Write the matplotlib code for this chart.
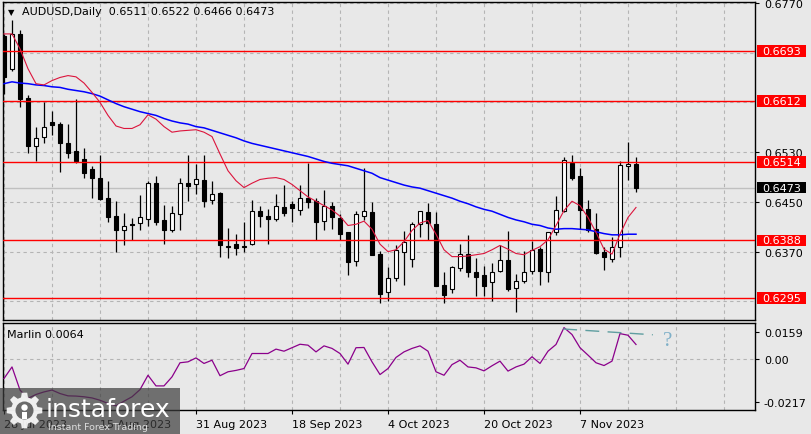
#!/usr/bin/env python3
"""AUDUSD daily candles with two moving averages, horizontal levels and the
Marlin oscillator below, drawn in the MT4 light-grey chart style."""
import matplotlib
matplotlib.use("Agg")
import matplotlib.pyplot as plt
import matplotlib.transforms as mtransforms
from matplotlib.patches import Rectangle, Polygon, Circle
import numpy as np

# ---- data --------------------------------------------------------------
SYMBOL = "AUDUSD,Daily"

# one row per daily bar, 28 Jul 2023 .. 16 Nov 2023
OPEN = [
    0.6717, 0.6664, 0.6720, 0.6617, 0.6540, 0.6554, 0.6578, 0.6575, 0.6545, 0.6531,
    0.6519, 0.6503, 0.6489, 0.6457, 0.6427, 0.6405, 0.6415, 0.6416, 0.6423, 0.6481,
    0.6421, 0.6405, 0.6430, 0.6481, 0.6478, 0.6485, 0.6453, 0.6464, 0.6378, 0.6382,
    0.6378, 0.6383, 0.6435, 0.6427, 0.6422, 0.6441, 0.6446, 0.6437, 0.6456, 0.6451,
    0.6419, 0.6444, 0.6424, 0.6401, 0.6355, 0.6428, 0.6434, 0.6366, 0.6305, 0.6327,
    0.6370, 0.6358, 0.6414, 0.6433, 0.6414, 0.6316, 0.6310, 0.6344, 0.6366, 0.6337,
    0.6332, 0.6321, 0.6339, 0.6357, 0.6311, 0.6323, 0.6339, 0.6375, 0.6338, 0.6401,
    0.6435, 0.6513, 0.6491, 0.6438, 0.6406, 0.6369, 0.6358, 0.6378, 0.6507, 0.6511,
]
HIGH = [
    0.6720, 0.6743, 0.6726, 0.6621, 0.6571, 0.6611, 0.6596, 0.6579, 0.6575, 0.6616,
    0.6536, 0.6508, 0.6525, 0.6483, 0.6452, 0.6432, 0.6424, 0.6461, 0.6483, 0.6491,
    0.6445, 0.6444, 0.6489, 0.6525, 0.6511, 0.6525, 0.6483, 0.6466, 0.6408, 0.6398,
    0.6417, 0.6453, 0.6443, 0.6438, 0.6463, 0.6477, 0.6452, 0.6477, 0.6512, 0.6456,
    0.6469, 0.6450, 0.6430, 0.6402, 0.6435, 0.6504, 0.6449, 0.6371, 0.6345, 0.6380,
    0.6403, 0.6417, 0.6436, 0.6448, 0.6433, 0.6337, 0.6347, 0.6382, 0.6397, 0.6360,
    0.6347, 0.6351, 0.6380, 0.6403, 0.6334, 0.6371, 0.6387, 0.6377, 0.6402, 0.6460,
    0.6522, 0.6525, 0.6504, 0.6453, 0.6432, 0.6377, 0.6394, 0.6515, 0.6546, 0.6522,
]
LOW = [
    0.6623, 0.6661, 0.6603, 0.6529, 0.6516, 0.6545, 0.6557, 0.6498, 0.6520, 0.6513,
    0.6489, 0.6456, 0.6453, 0.6418, 0.6369, 0.6381, 0.6389, 0.6405, 0.6412, 0.6413,
    0.6383, 0.6402, 0.6404, 0.6452, 0.6463, 0.6441, 0.6447, 0.6361, 0.6360, 0.6365,
    0.6370, 0.6380, 0.6409, 0.6383, 0.6420, 0.6427, 0.6418, 0.6429, 0.6440, 0.6389,
    0.6405, 0.6406, 0.6389, 0.6332, 0.6347, 0.6421, 0.6364, 0.6288, 0.6290, 0.6323,
    0.6316, 0.6345, 0.6393, 0.6388, 0.6314, 0.6288, 0.6303, 0.6339, 0.6330, 0.6299,
    0.6299, 0.6291, 0.6337, 0.6307, 0.6273, 0.6320, 0.6334, 0.6316, 0.6321, 0.6397,
    0.6433, 0.6485, 0.6406, 0.6401, 0.6366, 0.6341, 0.6354, 0.6362, 0.6485, 0.6466,
]
CLOSE = [
    0.6650, 0.6720, 0.6615, 0.6540, 0.6552, 0.6570, 0.6574, 0.6545, 0.6529, 0.6515,
    0.6497, 0.6489, 0.6455, 0.6426, 0.6405, 0.6411, 0.6413, 0.6425, 0.6481, 0.6418,
    0.6405, 0.6432, 0.6481, 0.6476, 0.6486, 0.6452, 0.6462, 0.6380, 0.6379, 0.6376,
    0.6379, 0.6435, 0.6428, 0.6423, 0.6443, 0.6432, 0.6440, 0.6456, 0.6449, 0.6417,
    0.6443, 0.6425, 0.6399, 0.6354, 0.6430, 0.6435, 0.6365, 0.6302, 0.6327, 0.6373,
    0.6386, 0.6414, 0.6435, 0.6416, 0.6315, 0.6300, 0.6345, 0.6367, 0.6338, 0.6330,
    0.6315, 0.6338, 0.6357, 0.6310, 0.6323, 0.6337, 0.6372, 0.6339, 0.6401, 0.6437,
    0.6517, 0.6488, 0.6437, 0.6405, 0.6368, 0.6362, 0.6378, 0.6509, 0.6511, 0.6473,
]

# fast (red) and slow (blue) moving averages as drawn on the chart
MA_FAST = [
    0.6720, 0.6720, 0.6696, 0.6664, 0.6640, 0.6638, 0.6645, 0.6650, 0.6653, 0.6651,
    0.6641, 0.6626, 0.6610, 0.6589, 0.6572, 0.6568, 0.6568, 0.6574, 0.6590, 0.6583,
    0.6571, 0.6562, 0.6564, 0.6565, 0.6566, 0.6562, 0.6555, 0.6527, 0.6500, 0.6484,
    0.6473, 0.6480, 0.6486, 0.6488, 0.6489, 0.6486, 0.6478, 0.6468, 0.6458, 0.6451,
    0.6444, 0.6437, 0.6427, 0.6412, 0.6414, 0.6419, 0.6406, 0.6382, 0.6370, 0.6373,
    0.6386, 0.6404, 0.6416, 0.6420, 0.6398, 0.6373, 0.6362, 0.6362, 0.6363, 0.6365,
    0.6367, 0.6373, 0.6380, 0.6374, 0.6367, 0.6365, 0.6372, 0.6378, 0.6389, 0.6412,
    0.6436, 0.6451, 0.6444, 0.6425, 0.6401, 0.6374, 0.6366, 0.6398, 0.6425, 0.6441,
]
MA_SLOW = [
    0.6640, 0.6643, 0.6641, 0.6640, 0.6638, 0.6637, 0.6635, 0.6634, 0.6631, 0.6629,
    0.6627, 0.6624, 0.6620, 0.6614, 0.6608, 0.6603, 0.6599, 0.6595, 0.6592, 0.6589,
    0.6584, 0.6580, 0.6577, 0.6575, 0.6571, 0.6569, 0.6565, 0.6561, 0.6557, 0.6553,
    0.6548, 0.6544, 0.6541, 0.6538, 0.6535, 0.6532, 0.6529, 0.6526, 0.6523, 0.6519,
    0.6515, 0.6512, 0.6510, 0.6508, 0.6504, 0.6500, 0.6496, 0.6489, 0.6485, 0.6481,
    0.6477, 0.6474, 0.6472, 0.6468, 0.6464, 0.6460, 0.6456, 0.6451, 0.6447, 0.6442,
    0.6438, 0.6435, 0.6430, 0.6425, 0.6421, 0.6418, 0.6414, 0.6412, 0.6408, 0.6406,
    0.6407, 0.6407, 0.6406, 0.6405, 0.6402, 0.6399, 0.6397, 0.6397, 0.6398, 0.6398,
]
MARLIN = [
    -0.0083, -0.0033, -0.0133, -0.0169, -0.0152, -0.0141, -0.0133, -0.0148, -0.0158, -0.0159,
    -0.0162, -0.0167, -0.0177, -0.0191, -0.0201, -0.0181, -0.0162, -0.0131, -0.0069, -0.0115,
    -0.0115, -0.0076, -0.0015, -0.0011, 0.0006, -0.0018, -0.0004, -0.0071, -0.0054, -0.0048,
    -0.0040, 0.0025, 0.0025, 0.0025, 0.0044, 0.0035, 0.0050, 0.0065, 0.0061, 0.0032,
    0.0058, 0.0047, 0.0025, -0.0021, 0.0050, 0.0051, -0.0011, -0.0066, -0.0040, 0.0008,
    0.0032, 0.0047, 0.0058, 0.0035, -0.0054, -0.0069, -0.0023, -0.0004, -0.0033, -0.0037,
    -0.0050, -0.0028, -0.0008, -0.0051, -0.0033, -0.0021, 0.0011, -0.0018, 0.0035, 0.0064,
    0.0137, 0.0107, 0.0050, 0.0018, -0.0015, -0.0027, -0.0008, 0.0111, 0.0104, 0.0064,
]

DATE_LABELS = ["28 Jul 2023", "15 Aug 2023", "31 Aug 2023", "18 Sep 2023",
               "4 Oct 2023", "20 Oct 2023", "7 Nov 2023"]
LEVELS = [0.6693, 0.6612, 0.6514, 0.6388, 0.6295]
PRICE_GRID = [0.6770, 0.6690, 0.6610, 0.6530, 0.6450, 0.6370, 0.6290]
# scale labels that are not hidden behind the level boxes
PRICE_LABELS = [0.6770, 0.6530, 0.6450, 0.6370]
MARLIN_MAX, MARLIN_MIN = 0.0159, -0.0217
# hand-drawn divergence line on the oscillator (bar index, value)
DIV_X = [69.9, 81.1]
DIV_Y = [0.0131, 0.0106]

# ---- style ---------------------------------------------------------------
W, H = 812, 435
BG = "#e8e8e8"
GRID = "#b4b4b4"
RED = "#ff0000"
BAR_STEP = 8.0       # pixels per bar
X0_PX = 4.0          # pixel x of bar 0
LEFT_PX, RIGHT_PX = 3.0, 755.5
MAIN_TOP, MAIN_BOT = 3.0, 321.0
IND_TOP, IND_BOT = 323.5, 410.5
Y_TOP, Y_BOT = 0.67713, 0.62601

plt.rcParams.update({
    "font.family": ["DejaVu Sans"],
    "font.size": 8,
    "axes.linewidth": 1.0,
    "axes.edgecolor": "black",
})


def fx(px):
    return px / W


def fy(py):
    return 1 - py / H


def main():
    fig = plt.figure(figsize=(W / 100, H / 100), dpi=100, facecolor=BG)
    xlim = ((LEFT_PX - X0_PX) / BAR_STEP, (RIGHT_PX - X0_PX) / BAR_STEP)

    ax = fig.add_axes([fx(LEFT_PX), fy(MAIN_BOT), fx(RIGHT_PX) - fx(LEFT_PX),
                       (MAIN_BOT - MAIN_TOP) / H], facecolor=BG)
    ind = fig.add_axes([fx(LEFT_PX), fy(IND_BOT), fx(RIGHT_PX) - fx(LEFT_PX),
                        (IND_BOT - IND_TOP) / H], facecolor=BG)

    n = len(OPEN)
    x = np.arange(n)
    o, h, l, c = (np.array(v) for v in (OPEN, HIGH, LOW, CLOSE))

    # grid
    for gx in range(0, 95, 6):
        ax.axvline(gx, color=GRID, lw=0.8, ls=(0, (3, 3)), zorder=0.5)
        ind.axvline(gx, color=GRID, lw=0.8, ls=(0, (3, 3)), zorder=0.5)
    for gy in PRICE_GRID:
        ax.axhline(gy, color=GRID, lw=0.8, ls=(0, (3, 3)), zorder=0.5)
    ind.axhline(0, color=GRID, lw=0.8, ls=(0, (3, 3)), zorder=0.5)

    # bid line
    ax.axhline(CLOSE[-1], color="#c0c0c0", lw=1.0, zorder=1)

    # candles
    up = c >= o
    ax.vlines(x, l, h, color="black", lw=0.9, zorder=3)
    bottom = np.minimum(o, c)
    height = np.abs(c - o)
    ax.bar(x[up], height[up], bottom=bottom[up], width=0.56, color="white",
           edgecolor="black", linewidth=0.8, zorder=4)
    ax.bar(x[~up], height[~up], bottom=bottom[~up], width=0.56, color="black",
           edgecolor="black", linewidth=0.8, zorder=4)

    ax.plot(x, MA_SLOW, color="#0000ff", lw=1.1, zorder=6)
    ax.plot(x, MA_FAST, color="#dc143c", lw=0.8, zorder=6)

    for lvl in LEVELS:
        ax.axhline(lvl, color=RED, lw=1.0, zorder=5)

    ax.set_xticks([])
    ax.set_yticks(PRICE_LABELS)
    ax.set_yticklabels([f"{t:.4f}" for t in PRICE_LABELS])
    ax.tick_params(axis="y", left=False, right=True, labelleft=False,
                   labelright=True, direction="out", length=3, width=0.8,
                   pad=3, labelsize=8)

    # price boxes on the right scale
    blend = mtransforms.blended_transform_factory(fig.transFigure, ax.transData)
    box_h = 11.7 * (Y_TOP - Y_BOT) / (MAIN_BOT - MAIN_TOP)
    boxes = [(lvl, RED) for lvl in LEVELS] + [(CLOSE[-1], "black")]
    for lvl, col in boxes:
        ax.add_patch(Rectangle((fx(757), lvl - box_h / 2), fx(49), box_h,
                               transform=blend, facecolor=col, edgecolor="none",
                               clip_on=False, zorder=8))
        ax.text(fx(762), lvl, f"{lvl:.4f}", transform=blend, color="white",
                ha="left", va="center", fontsize=8, zorder=9, clip_on=False)
    ax.set_xlim(*xlim)
    ax.set_ylim(Y_BOT, Y_TOP)

    # oscillator
    ind.plot(x, MARLIN, color="#8b008b", lw=0.9, zorder=3)
    ind.plot(DIV_X, DIV_Y, color="#5f9ea0", lw=1.0, ls=(0, (10, 6)), zorder=4)
    ind.text(82.9, 0.0083, "?", color="#7fb0c8", fontsize=15,
             family=["Liberation Serif"], ha="center", va="center", zorder=4)
    ind.set_xlim(*xlim)
    ind.set_ylim(MARLIN_MIN, MARLIN_MAX)
    span = MARLIN_MAX - MARLIN_MIN
    px_unit = span / (IND_BOT - IND_TOP)
    ind_ticks = [MARLIN_MAX - 9.8 * px_unit, 0.0, MARLIN_MAX - 79.8 * px_unit]
    ind.set_yticks(ind_ticks)
    ind.set_yticklabels([f"{MARLIN_MAX:.4f}", "0.00", f"{MARLIN_MIN:.4f}"])
    ind.tick_params(axis="y", left=False, right=True, labelleft=False,
                    labelright=True, direction="out", length=3, width=0.8,
                    pad=3, labelsize=8)
    ind.set_xticks(range(0, 12 * len(DATE_LABELS), 12))
    ind.set_xticklabels(DATE_LABELS, ha="left")
    ind.tick_params(axis="x", direction="out", length=3, width=0.8, pad=4,
                    labelsize=8)

    # header texts
    fig.text(fx(11), fy(12.3), "\u25bc", ha="center", va="center", fontsize=6)
    fig.text(fx(21.7), fy(12.3),
             f"{SYMBOL}  {OPEN[-1]:.4f} {HIGH[-1]:.4f} {LOW[-1]:.4f} {CLOSE[-1]:.4f}",
             ha="left", va="center", fontsize=8)
    fig.text(fx(7.3), fy(335), f"Marlin {MARLIN[-1]:.4f}", ha="left",
             va="center", fontsize=8)

    # watermark in pixel coordinates
    ov = fig.add_axes([0, 0, 1, 1], zorder=20)
    ov.set_xlim(0, W)
    ov.set_ylim(H, 0)
    ov.axis("off")
    ov.patch.set_alpha(0)
    ov.add_patch(Rectangle((0, 389), 180, 46, facecolor="#3c3c3c",
                           edgecolor="none", alpha=0.7))
    cx, cy = 24.5, 411.5
    pts = []
    for k in range(8):
        a = 2 * np.pi * k / 8
        for da, r in ((-0.26, 13.5), (-0.15, 18), (0.15, 18), (0.26, 13.5)):
            pts.append((cx + r * np.cos(a + da), cy + r * np.sin(a + da)))
    ov.add_patch(Polygon(pts, closed=True, facecolor="white", edgecolor="none",
                         alpha=0.9))
    ov.add_patch(Circle((cx, cy), 9, facecolor="#6a6a6a", edgecolor="none"))
    ov.add_patch(Circle((cx, cy - 3), 3.2, facecolor="white", edgecolor="none"))
    ov.add_patch(Rectangle((cx - 2.5, cy + 1), 5, 7, facecolor="white",
                           edgecolor="none"))
    ov.text(46, 417, "instaforex", color="white", fontsize=18, ha="left",
            va="baseline")
    ov.text(48, 430, "Instant Forex Trading", color="#dedede", fontsize=6.8,
            ha="left", va="baseline")

    fig.savefig("out.png", dpi=100, facecolor=BG)
    plt.close(fig)


if __name__ == "__main__":
    main()
